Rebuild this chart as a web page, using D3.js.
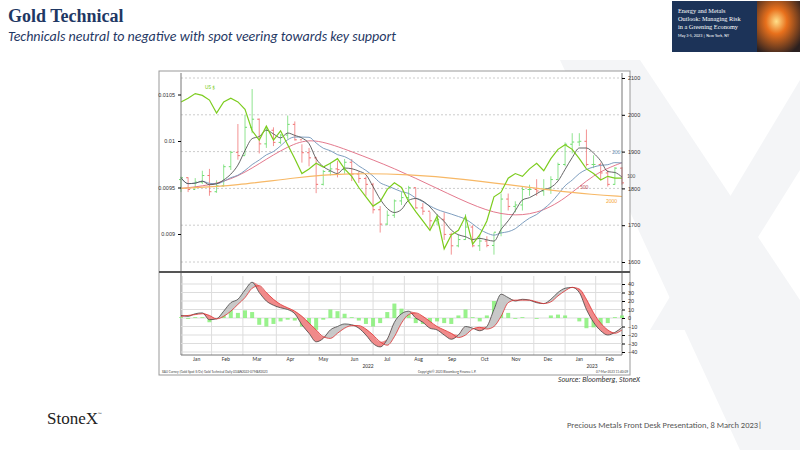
<!DOCTYPE html>
<html><head><meta charset="utf-8">
<script src="https://cdn.jsdelivr.net/npm/d3@7"></script>
<style>body{margin:0;background:#fff;font-family:Calibri,'Liberation Sans',Arial,sans-serif}</style>
</head><body>
<script>
'use strict'
// weekly gold closes, Dec 31 2021 .. Mar 7 2023
const closes = [1829,1797,1817,1835,1791,1807,1859,1898,1889,1966,1988,1921,1958,1925,1945,1974,1932,1897,1883,1811,1846,1853,1851,1871,1839,1827,1811,1742,1703,1727,1766,1775,1802,1747,1738,1712,1716,1675,1644,1661,1695,1644,1657,1645,1681,1771,1751,1755,1797,1797,1793,1798,1824,1865,1920,1926,1928,1865,1865,1842,1811,1855,1815];
const highs = [1832,1830,1828,1848,1853,1822,1865,1902,1975,2000,2070,1990,1966,1966,1948,1998,1982,1920,1910,1885,1850,1870,1875,1880,1880,1846,1832,1815,1752,1740,1770,1790,1807,1802,1760,1736,1730,1735,1680,1675,1730,1700,1675,1670,1680,1786,1786,1765,1805,1810,1825,1825,1833,1870,1925,1950,1950,1960,1890,1870,1850,1858,1858];
const lows = [1790,1790,1800,1812,1780,1788,1805,1850,1878,1890,1950,1895,1910,1915,1920,1935,1930,1870,1860,1787,1808,1835,1830,1840,1820,1815,1780,1732,1680,1700,1720,1755,1765,1745,1728,1690,1700,1660,1620,1640,1660,1640,1630,1640,1620,1670,1740,1735,1740,1780,1780,1780,1785,1825,1860,1895,1915,1860,1855,1825,1805,1810,1810];
// US $ (left axis)
const usd = [.01042,.01046,.01051,.01049,.01044,.01030,.01042,.01046,.01042,.01034,.01011,.01001,.01016,.01001,.01011,.00996,.00981,.00965,.00970,.00976,.00972,.00976,.00981,.00970,.00962,.00950,.00940,.00930,.00935,.00948,.00955,.00950,.00935,.00924,.00914,.00904,.00919,.00884,.00899,.00904,.00919,.00889,.00899,.00914,.00940,.00945,.00960,.00965,.00962,.00970,.00976,.00968,.00981,.00991,.00996,.00991,.00981,.00970,.00965,.00958,.00962,.00960,.00960];
// 200-day moving average, sparse [week, price]
const ma200 = [[0,1800],[8,1808],[16,1830],[24,1842],[32,1838],[40,1825],[46,1810],[52,1795],[58,1783],[62,1778]];
// 100-day moving average, sparse [week, price]
const ma100 = [[0,1800],[4,1808],[8,1830],[12,1880],[16,1925],[19,1935],[24,1900],[30,1855],[36,1800],[42,1745],[46,1725],[50,1730],[54,1770],[58,1840],[62,1870]];
// oscillator panel
const oscA = [3,2,5,6,-2,-1,8,18,22,33,42,30,20,15,12,10,5,-8,-18,-28,-24,-14,-10,-7,-8,-12,-20,-30,-34,-25,-5,5,8,0,-5,-12,-14,-20,-25,-20,-10,-12,-15,-10,10,28,24,20,22,21,18,17,22,30,35,36,30,10,-5,-15,-20,-17,-11];
const oscB = [2,3,4,5,3,-1,2,8,16,24,35,38,30,22,16,12,8,2,-6,-14,-22,-24,-18,-12,-9,-9,-13,-20,-28,-32,-22,-6,4,6,2,-4,-10,-14,-18,-23,-20,-13,-11,-13,-10,2,18,21,21,21,19,17,19,26,32,36,34,22,6,-6,-14,-18,-14];
const months = [['Jan',2.2],['Feb',6.3],['Mar',10.7],['Apr',15.4],['May',20],['Jun',24.4],['Jul',29],['Aug',33.4],['Sep',38.1],['Oct',42.7],['Nov',47.1],['Dec',51.6],['Jan',56],['Feb',60.3]];
const priceTicks = [1600,1700,1800,1900,2000,2100];
const usdTicks = [0.009,0.0095,0.01,0.0105];
const oscTicks = [-40,-30,-20,-10,0,10,20,30,40];

const svg = d3.select('body').append('svg').attr('width',800).attr('height',450);
const navy = '#1f3864';

// watermark X
svg.append('path').attr('d','M560 60 L640 60 L800 300 L800 450 L740 450 Z').attr('fill','#f4f5f7');
svg.append('path').attr('d','M800 80 L800 170 L700 330 L650 330 Z').attr('fill','#f4f5f7');

svg.append('text').attr('x',8).attr('y',22).attr('font-family','Liberation Serif,serif').attr('font-weight','bold').attr('font-size',18).attr('fill',navy).text('Gold Technical');
svg.append('text').attr('x',8).attr('y',41).attr('font-style','italic').attr('font-size',14).attr('fill',navy).text('Technicals neutral to negative with spot veering towards key support');

// banner
const defs = svg.append('defs');
const g1 = defs.append('radialGradient').attr('id','fire').attr('cx',0.45).attr('cy',0.4).attr('r',0.7);
g1.append('stop').attr('offset','0').attr('stop-color','#ffe08a');
g1.append('stop').attr('offset','0.35').attr('stop-color','#e8701c');
g1.append('stop').attr('offset','1').attr('stop-color','#2b2020');
svg.append('rect').attr('x',672).attr('y',1).attr('width',128).attr('height',51).attr('fill','#1c3358');
svg.append('rect').attr('x',757).attr('y',1).attr('width',43).attr('height',51).attr('fill','url(#fire)');
['Energy and Metals','Outlook: Managing Risk','in a Greening Economy'].forEach((t,i)=>
  svg.append('text').attr('x',678).attr('y',13+i*8).attr('font-family','Liberation Serif,serif').attr('font-size',6.3).attr('fill','#fff').text(t));
svg.append('text').attr('x',678).attr('y',37).attr('font-size',4.2).attr('fill','#fff').text('May 3-5, 2023 | New York, NY');

// chart frame
svg.append('rect').attr('x',159).attr('y',71).attr('width',471).attr('height',304).attr('fill','#fff').attr('stroke','#999');
const L = 181, R = 622;
const x = d3.scaleLinear().domain([0,62]).range([L,R]);
const yP = d3.scaleLinear().domain([1600,2100]).range([262,78]);
const yU = d3.scaleLinear().domain([0.009,0.01]).range([234,141]);
const yO = d3.scaleLinear().domain([-40,40]).range([352,284]);

const up = svg.append('g');
up.selectAll('line.g').data(priceTicks).join('line').attr('x1',L).attr('x2',R).attr('y1',d=>yP(d)).attr('y2',d=>yP(d)).attr('stroke','#ccc').attr('stroke-dasharray','2,2');
svg.append('line').attr('x1',L).attr('x2',L).attr('y1',73).attr('y2',355).attr('stroke','#777');
svg.append('line').attr('x1',R).attr('x2',R).attr('y1',73).attr('y2',355).attr('stroke','#777');
svg.append('g').attr('transform',`translate(${R},0)`).call(d3.axisRight(yP).tickValues(priceTicks).tickSize(3).tickFormat(d3.format('d')))
  .call(g=>{g.select('.domain').remove();g.selectAll('text').attr('font-size',5.5).attr('fill','#333')});
svg.append('g').attr('transform',`translate(${L},0)`).call(d3.axisLeft(yU).tickValues(usdTicks).tickSize(3).tickFormat(d=>String(+d.toFixed(4))))
  .call(g=>{g.select('.domain').remove();g.selectAll('text').attr('font-size',5.5).attr('fill','#333')});

// price bars
closes.forEach((c,i)=>{
  const o = i ? closes[i-1] : c - 5, col = c >= o ? '#6cdc6c' : '#f07070';
  up.append('line').attr('x1',x(i)).attr('x2',x(i)).attr('y1',yP(highs[i])).attr('y2',yP(lows[i])).attr('stroke',col).attr('stroke-width',1).attr('opacity',0.75);
  up.append('line').attr('x1',x(i)-2).attr('x2',x(i)).attr('y1',yP(o)).attr('y2',yP(o)).attr('stroke',col);
  up.append('line').attr('x1',x(i)).attr('x2',x(i)+2).attr('y1',yP(c)).attr('y2',yP(c)).attr('stroke',col);
});
const ma = n => closes.map((c,i)=>d3.mean(closes.slice(Math.max(0,i-n+1),i+1)));
const line = d3.line().x((d,i)=>x(i)).y(d=>yP(d)).curve(d3.curveMonotoneX);
const sparse = d3.line().x(d=>x(d[0])).y(d=>yP(d[1])).curve(d3.curveBasis);
up.append('path').attr('d',sparse(ma100)).attr('fill','none').attr('stroke','#e06a80').attr('stroke-width',0.9);
[[ma(10),'#6f93b8'],[ma(4),'#555']].forEach(([d,c])=>
  up.append('path').attr('d',line(d)).attr('fill','none').attr('stroke',c).attr('stroke-width',0.9));
up.append('path').attr('d',sparse(ma200)).attr('fill','none').attr('stroke','#f7b866').attr('stroke-width',1.2);
up.append('path').attr('d',d3.line().x((d,i)=>x(i)).y(d=>yU(d))(usd)).attr('fill','none').attr('stroke','#7ccc1e').attr('stroke-width',1.2);
[['US $',205,89,'#7ccc1e'],['200',612,154,'#6f93b8'],['100',627,178,'#555'],['500',580,189,'#c05060'],['2000',606,203,'#f7a840']].forEach(([t,a,b,c])=>
  svg.append('text').attr('x',a).attr('y',b).attr('font-size',5.5).attr('fill',c).text(t));

// separator
svg.append('line').attr('x1',159).attr('x2',630).attr('y1',272).attr('y2',272).attr('stroke','#555').attr('stroke-width',2);

// lower panel
const lo = svg.append('g');
lo.selectAll('line').data(oscTicks).join('line').attr('x1',L).attr('x2',R).attr('y1',d=>yO(d)).attr('y2',d=>yO(d)).attr('stroke','#ddd');
months.forEach(m=>lo.append('line').attr('x1',x(m[1]-2)).attr('x2',x(m[1]-2)).attr('y1',276).attr('y2',355).attr('stroke','#ddd'));
svg.append('g').attr('transform',`translate(${R},0)`).call(d3.axisRight(yO).tickValues(oscTicks).tickSize(3))
  .call(g=>{g.select('.domain').remove();g.selectAll('text').attr('font-size',5.5).attr('fill','#333')});
lo.selectAll('rect.h').data(oscA).join('rect').attr('x',(d,i)=>x(i)-2).attr('width',4)
  .attr('y',(d,i)=>yO(Math.max(0,d-oscB[i]))).attr('height',(d,i)=>Math.abs(yO(d-oscB[i])-yO(0))).attr('fill','#7fef6f').attr('opacity',0.8);
const area = d3.area().x((d,i)=>x(i)).curve(d3.curveMonotoneX);
lo.append('path').attr('d',area.y0((d,i)=>yO(oscB[i])).y1((d,i)=>yO(Math.max(oscA[i],oscB[i])))(oscA)).attr('fill','#c8c8c8');
lo.append('path').attr('d',area.y0((d,i)=>yO(oscA[i])).y1((d,i)=>yO(Math.max(oscA[i],oscB[i])))(oscB)).attr('fill','#f08a8a');
const ol = d3.line().x((d,i)=>x(i)).y(d=>yO(d)).curve(d3.curveMonotoneX);
lo.append('path').attr('d',ol(oscA)).attr('fill','none').attr('stroke','#444').attr('stroke-width',0.8);
lo.append('path').attr('d',ol(oscB)).attr('fill','none').attr('stroke','#e03030').attr('stroke-width',0.8);
svg.append('line').attr('x1',L).attr('x2',R).attr('y1',355).attr('y2',355).attr('stroke','#777');
months.forEach(m=>svg.append('text').attr('x',x(m[1])).attr('y',361).attr('text-anchor','middle').attr('font-size',5.5).attr('fill','#333').text(m[0]));
svg.append('text').attr('x',368).attr('y',368).attr('text-anchor','middle').attr('font-size',5.5).attr('fill','#333').text('2022');
svg.append('text').attr('x',592).attr('y',368).attr('text-anchor','middle').attr('font-size',5.5).attr('fill','#333').text('2023');
svg.append('text').attr('x',162).attr('y',373).attr('font-size',3.5).attr('fill','#444').text('XAU Curncy (Gold Spot   $/Oz) Gold Technical  Daily 03JAN2022-07MAR2023');
svg.append('text').attr('x',418).attr('y',373).attr('font-size',3.5).attr('fill','#444').text('Copyright\u00a9 2023 Bloomberg Finance L.P.');
svg.append('text').attr('x',628).attr('y',373).attr('text-anchor','end').attr('font-size',3.5).attr('fill','#444').text('07-Mar-2023 11:40:09');

svg.append('text').attr('x',640).attr('y',382).attr('text-anchor','end').attr('font-style','italic').attr('font-size',7.5).attr('fill','#333').text('Source: Bloomberg, StoneX');
svg.append('text').attr('x',47).attr('y',424).attr('font-family','Liberation Serif,serif').attr('font-size',17).attr('fill','#222').text('StoneX');
svg.append('text').attr('x',98).attr('y',416).attr('font-size',5).attr('fill','#222').text('™');
svg.append('text').attr('x',762).attr('y',428).attr('text-anchor','end').attr('font-size',8.5).attr('fill','#555').text('Precious Metals Front Desk Presentation, 8 March 2023|');
</script>
</body></html>
